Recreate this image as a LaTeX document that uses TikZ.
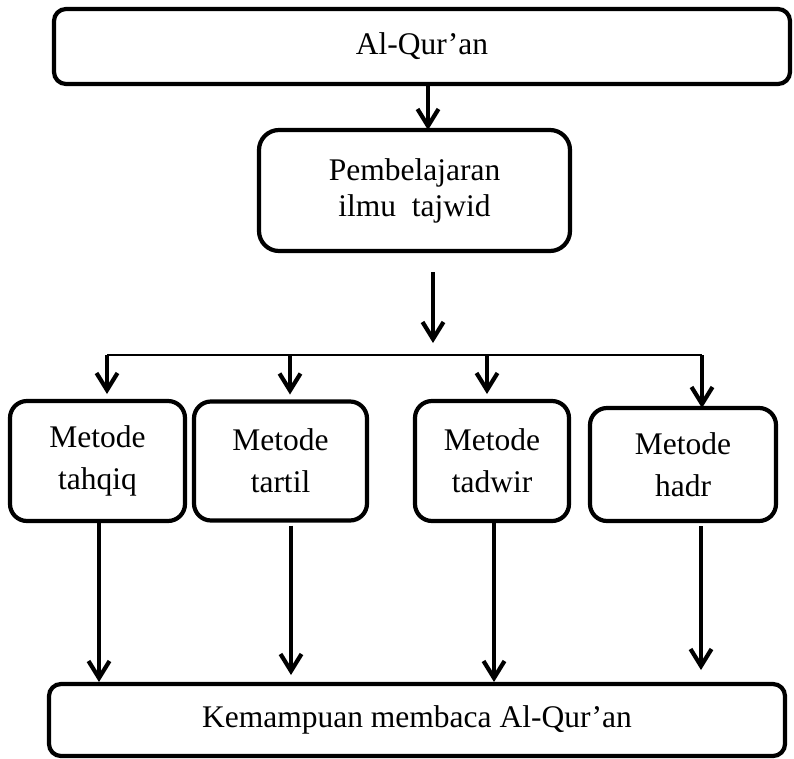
\documentclass[tikz,border=0pt]{standalone}
\usepackage{fontspec}
\setmainfont{Liberation Serif}
\usepackage{tikz}
\usetikzlibrary{arrows.meta,positioning}
\tikzstyle{kotak}=[rectangle,draw=black,line width=4.2pt,inner sep=0pt,outer sep=0pt,align=center,font=\fontsize{31.5}{36}\selectfont]
\tikzstyle{metode}=[kotak,rounded corners=17pt,font=\fontsize{31.5}{42}\selectfont]
\tikzstyle{panah}=[-{Straight Barb[length=17pt,width=21pt]},line width=4.2pt]
\tikzstyle{garis}=[line width=2.5pt]

\begin{document}
\begin{tikzpicture}[x=1pt,y=-1pt]
    \useasboundingbox (0,0) rectangle (794,758);

    % Kotak
    \node[kotak, rounded corners=12pt, minimum width=736pt, minimum height=75pt] (quran) at (422,46.5) {Al-Qur’an};
    \node[kotak, rounded corners=20pt, minimum width=311pt, minimum height=121pt] (tajwid) [below=46pt of quran, xshift=-7.5pt] {Pembelajaran\\ilmu~~tajwid};
    \node[metode, minimum width=175pt, minimum height=120pt] (met1) at (97.5,461) {Metode\\tahqiq};
    \node[metode, minimum width=173pt, minimum height=119pt] (met2) [right=9pt of met1] {Metode\\tartil};
    \node[metode, minimum width=154pt, minimum height=120pt] (met3) [right=48pt of met2] {Metode\\tadwir};
    \node[metode, minimum width=186pt, minimum height=113pt] (met4) [right=21pt of met3, yshift=-3.5pt] {Metode\\hadr};
    \node[kotak, rounded corners=12pt, minimum width=736pt, minimum height=72pt] (kemampuan) at (417,720) {Kemampuan membaca Al-Qur’an};

    \coordinate (c1) at (433,272);
    \coordinate (c2) at (433,343);
    \coordinate (b1) at (107,355);
    \coordinate (b4) at (702,355);

    % Panah
    \draw [panah] ([xshift=13.5pt]tajwid.north |- quran.south) -- ([xshift=13.5pt]tajwid.north);
    \draw [panah] (c1) -- (c2);
    \draw [garis] (b1) -- (b4);
    \draw [panah] ([xshift=9.5pt]met1.north |- b1) -- ([xshift=9.5pt,yshift=7pt]met1.north);
    \draw [panah] ([xshift=9.5pt]met2.north |- b1) -- ([xshift=9.5pt,yshift=7pt]met2.north);
    \draw [panah] ([xshift=-5pt]met3.north |- b1) -- ([xshift=-5pt,yshift=7pt]met3.north);
    \draw [panah] ([xshift=19pt]met4.north |- b4) -- ([xshift=19pt]met4.north);
    \draw [panah] ([xshift=1.5pt]met1.south) -- ([xshift=1.5pt,yshift=2pt]met1.south |- kemampuan.north);
    \draw [panah, shorten <=5pt] ([xshift=10.5pt]met2.south) -- ([xshift=10.5pt,yshift=9pt]met2.south |- kemampuan.north);
    \draw [panah] ([xshift=2pt]met3.south) -- ([xshift=2pt,yshift=2pt]met3.south |- kemampuan.north);
    \draw [panah, shorten <=5pt] ([xshift=18pt]met4.south) -- ([xshift=18pt,yshift=14pt]met4.south |- kemampuan.north);

  \end{tikzpicture}
\end{document}
